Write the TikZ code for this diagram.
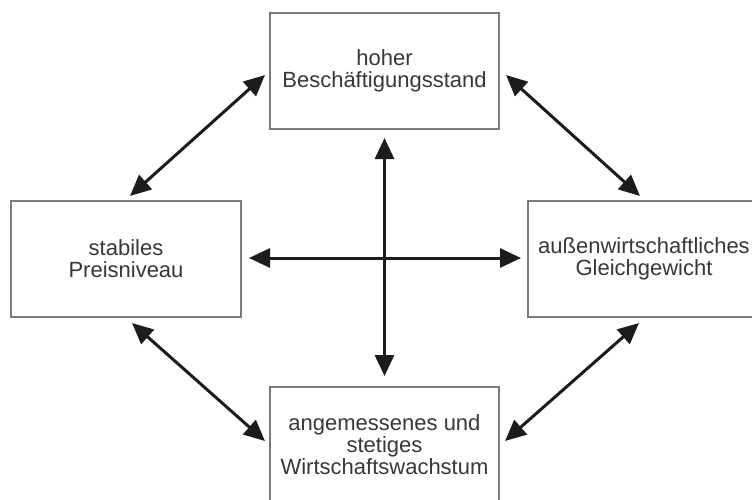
\documentclass[tikz,border=0pt]{standalone}
\usepackage{fontspec}
\setmainfont{Liberation Sans}
\usetikzlibrary{arrows.meta}
\definecolor{boxgray}{HTML}{7A7A7A}
\definecolor{txtgray}{HTML}{383838}
\definecolor{arrblack}{HTML}{1C1C1C}
\begin{document}
\begin{tikzpicture}[x=1pt,y=-1pt,
  goalbox/.style={draw=boxgray,line width=2pt,fill=white,rectangle,minimum width=229pt,minimum height=116pt,
    align=center,text=txtgray,font=\fontsize{22}{22}\selectfont,inner sep=0pt},
  arr/.style={draw=arrblack,line width=3pt,{Triangle[length=21pt,width=19pt]}-{Triangle[length=21pt,width=19pt]}}]
\useasboundingbox (0,0) rectangle (752,499);
\clip (0,0) rectangle (752,499);
\node[goalbox] (T) at (384.5,71) {hoher\\Beschäftigungsstand};
\node[goalbox,minimum width=230pt] (L) at (126,259) {stabiles\\Preisniveau};
\node[goalbox,minimum width=232pt] (R) at (644,259) {außenwirtschaftliches\\Gleichgewicht};
\node[goalbox] (B) at (384.5,445) {angemessenes und\\stetiges\\Wirtschaftswachstum};
\draw[arr] ([xshift=4pt,yshift=4pt]L.north) -- ([xshift=-4pt,yshift=-4pt]T.west);
\draw[arr] ([xshift=6pt,yshift=-4pt]T.east) -- ([xshift=-4pt,yshift=4pt]R.north);
\draw[arr] ([xshift=6pt,yshift=-5pt]L.south) -- ([xshift=-4pt,yshift=4pt]B.west);
\draw[arr] ([xshift=-5pt,yshift=-5pt]R.south) -- ([xshift=5pt,yshift=4pt]B.east);
\draw[arr] ([yshift=-8pt]T.south) -- ([yshift=10pt]B.north);
\draw[arr] ([xshift=7pt,yshift=1pt]L.east) -- ([xshift=-6pt,yshift=1pt]R.west);
\end{tikzpicture}
\end{document}
